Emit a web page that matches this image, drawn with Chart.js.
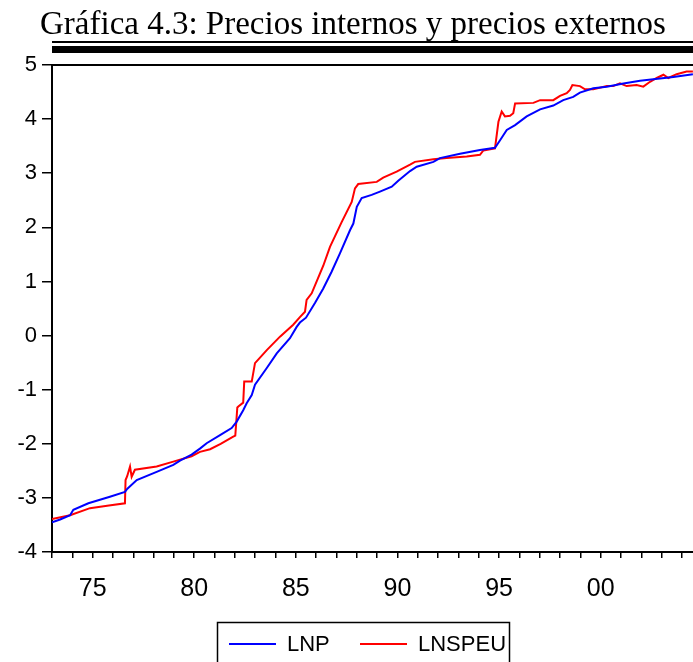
<!DOCTYPE html>
<html><head><meta charset="utf-8">
<script src="https://cdn.jsdelivr.net/npm/chart.js@4.4.1/dist/chart.umd.min.js"></script>
<style>html,body{margin:0;padding:0;background:#fff;overflow:hidden}#wrap{width:693px;height:662px;position:relative}</style>
</head><body><div id="wrap"><canvas id="c" width="693" height="662"></canvas></div>
<script>
const titleText = 'Gráfica 4.3: Precios internos y precios externos';
const seriesNames = ['LNP', 'LNSPEU'];
const seriesColors = ['#0000FF', '#FF0000'];
const xMin = 1973, xMax = 2004.545;
const yMin = -4, yMax = 5;

const lnpYears = [1973.00,1973.40,1973.89,1974.05,1974.79,1975.85,1976.59,1976.71,1977.17,1978.15,1978.97,1979.30,1979.87,1980.28,1980.61,1981.27,1981.84,1982.09,1982.41,1982.58,1982.83,1982.99,1983.57,1984.06,1984.71,1985.04,1985.20,1985.50,1985.94,1986.35,1986.76,1987.17,1987.67,1987.83,1988.00,1988.24,1988.73,1989.14,1989.72,1990.04,1990.62,1990.95,1991.77,1992.09,1993.08,1994.06,1994.80,1995.05,1995.38,1995.79,1996.36,1997.02,1997.67,1998.16,1998.65,1998.98,1999.64,2000.30,2001.12,2001.94,2002.92,2003.58,2004.54];
const lnpValues = [-3.45,-3.40,-3.32,-3.22,-3.10,-2.98,-2.89,-2.83,-2.67,-2.52,-2.39,-2.31,-2.20,-2.09,-1.99,-1.84,-1.71,-1.59,-1.38,-1.25,-1.10,-0.91,-0.60,-0.33,-0.05,0.16,0.24,0.33,0.60,0.87,1.18,1.52,1.95,2.07,2.38,2.54,2.60,2.66,2.75,2.86,3.04,3.12,3.21,3.28,3.36,3.43,3.47,3.61,3.80,3.89,4.05,4.18,4.25,4.35,4.41,4.49,4.57,4.60,4.66,4.71,4.75,4.78,4.83];

const lnspeuYears = [1973.00,1973.89,1974.87,1975.80,1976.59,1976.62,1976.70,1976.84,1976.92,1977.08,1978.15,1978.97,1979.87,1980.28,1980.78,1981.30,1981.92,1982.02,1982.12,1982.17,1982.41,1982.46,1982.83,1982.99,1983.57,1984.22,1984.87,1985.20,1985.45,1985.53,1985.78,1986.19,1986.35,1986.68,1987.26,1987.75,1987.91,1988.07,1988.98,1989.30,1989.96,1990.62,1990.86,1991.77,1992.42,1993.41,1994.06,1994.23,1994.80,1994.97,1995.13,1995.29,1995.54,1995.70,1995.79,1996.69,1997.02,1997.67,1998.00,1998.33,1998.49,1998.61,1998.98,1999.23,1999.64,2000.30,2000.62,2000.95,2001.28,2001.77,2002.10,2002.43,2002.76,2003.09,2003.33,2003.74,2004.23,2004.54];
const lnspeuValues = [-3.39,-3.32,-3.19,-3.14,-3.10,-2.67,-2.60,-2.42,-2.61,-2.48,-2.42,-2.33,-2.23,-2.15,-2.10,-2.00,-1.87,-1.85,-1.33,-1.31,-1.24,-0.85,-0.85,-0.51,-0.27,-0.02,0.20,0.34,0.44,0.66,0.78,1.15,1.29,1.64,2.10,2.47,2.72,2.80,2.84,2.92,3.03,3.16,3.21,3.26,3.28,3.31,3.34,3.42,3.46,3.95,4.14,4.05,4.06,4.11,4.29,4.30,4.35,4.35,4.43,4.48,4.54,4.63,4.61,4.55,4.55,4.61,4.61,4.66,4.61,4.63,4.60,4.69,4.76,4.82,4.76,4.83,4.88,4.88];

const toPoints = (xs, ys) => xs.map((x, i) => ({x: x, y: ys[i]}));

const decorPlugin = {
  id: 'decor',
  afterDraw(chart) {
    const ctx = chart.ctx, a = chart.chartArea;
    ctx.save();
    ctx.fillStyle = '#000';
    ctx.font = '33px "Liberation Serif", "Times New Roman", serif';
    ctx.textAlign = 'left';
    ctx.textBaseline = 'alphabetic';
    ctx.fillText(titleText, 40, 34);
    ctx.fillRect(52, 41, 641, 2);
    ctx.fillRect(52, 46, 641, 7);
    ctx.strokeStyle = '#000';
    ctx.lineWidth = 2;
    ctx.beginPath();
    ctx.moveTo(a.left - 1, a.top);
    ctx.lineTo(693, a.top);
    ctx.stroke();
    ctx.lineWidth = 1.5;
    ctx.strokeRect(217.5, 622.5, 292, 60);
    const ly = 644;
    ctx.font = '22px "Liberation Sans", Arial, sans-serif';
    ctx.textBaseline = 'middle';
    const entries = [[229, 276, 287], [360, 407, 418]];
    entries.forEach((e, i) => {
      ctx.strokeStyle = seriesColors[i];
      ctx.lineWidth = 2;
      ctx.beginPath(); ctx.moveTo(e[0], ly); ctx.lineTo(e[1], ly); ctx.stroke();
      ctx.fillStyle = '#000';
      ctx.fillText(seriesNames[i], e[2], ly + 1);
    });
    ctx.restore();
  }
};

new Chart(document.getElementById('c'), {
  type: 'line',
  data: {
    datasets: [
      {label: seriesNames[0], data: toPoints(lnpYears, lnpValues), borderColor: seriesColors[0], borderWidth: 2, pointRadius: 0, tension: 0, fill: false},
      {label: seriesNames[1], data: toPoints(lnspeuYears, lnspeuValues), borderColor: seriesColors[1], borderWidth: 2, pointRadius: 0, tension: 0, fill: false}
    ]
  },
  options: {
    responsive: false,
    animation: false,
    devicePixelRatio: 1,
    layout: {padding: {top: 65, left: 0, right: 0, bottom: 0}},
    plugins: {legend: {display: false}, title: {display: false}, tooltip: {enabled: false}},
    scales: {
      x: {
        type: 'linear', min: xMin, max: xMax,
        afterFit: s => { s.height = 110; s.paddingLeft = 0; s.paddingRight = 0; },
        ticks: {
          stepSize: 1, autoSkip: false, maxRotation: 0, includeBounds: false,
          color: '#000', padding: 16,
          font: {family: '"Liberation Sans", Arial, sans-serif', size: 25},
          callback: v => (Math.round(v) % 5 === 0) ? String(Math.round(v) % 100).padStart(2, '0') : ''
        },
        grid: {drawOnChartArea: false, drawTicks: true, tickLength: 6, color: '#000', lineWidth: 1.5},
        border: {display: true, color: '#000', width: 2}
      },
      y: {
        type: 'linear', min: yMin, max: yMax,
        afterFit: s => { s.width = 52; },
        ticks: {
          stepSize: 1, color: '#000', padding: 5,
          font: {family: '"Liberation Sans", Arial, sans-serif', size: 22}
        },
        grid: {drawOnChartArea: false, drawTicks: true, tickLength: 10, color: '#000', lineWidth: 1.5},
        border: {display: true, color: '#000', width: 2}
      }
    }
  },
  plugins: [decorPlugin]
});
</script>
</body></html>
